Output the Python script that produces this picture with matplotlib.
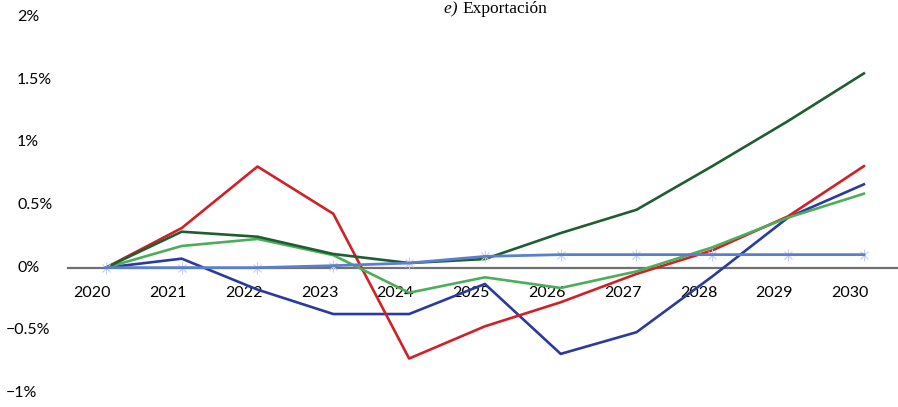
import matplotlib.pyplot as plt
import matplotlib.transforms as mtransforms
import numpy as np

plt.rcParams['font.family'] = ['Lato', 'DejaVu Sans']

years = [2020, 2021, 2022, 2023, 2024, 2025, 2026, 2027, 2028, 2029, 2030]

# percentage changes
dark_green = [0, 0.287, 0.247, 0.109, 0.037, 0.069, 0.276, 0.462, 0.81, 1.17, 1.55]
red = [0, 0.316, 0.807, 0.43, -0.725, -0.468, -0.276, -0.05, 0.138, 0.41, 0.81]
green = [0, 0.173, 0.229, 0.10, -0.20, -0.077, -0.162, -0.03, 0.162, 0.40, 0.59]
blue = [0, 0.072, -0.175, -0.37, -0.37, -0.13, -0.688, -0.515, -0.07, 0.40, 0.665]
light_blue = [0, 0, 0, 0.016, 0.037, 0.09, 0.104, 0.104, 0.104, 0.104, 0.104]

ytick_vals = [2, 1.5, 1, 0.5, 0, -0.5, -1]
ytick_labels = ['2%', '1.5%', '1%', '0.5%', '0%', '\u22120.5%', '\u22121%']
title = 'Exportación'

fig = plt.figure(figsize=(8.98, 4.07), dpi=100)
ax = fig.add_axes([68 / 898, 1 - 393 / 407, 1 - 68 / 898, (393 - 17) / 407])

ax.plot(years, blue, color='#2b3a9e', lw=1.9, zorder=3)
ax.plot(years, red, color='#d02028', lw=1.9, zorder=3)
ax.plot(years, green, color='#4cae5a', lw=1.9, zorder=4)
ax.plot(years, dark_green, color='#1e5e31', lw=1.9, zorder=4)
ax.plot(years, light_blue, color='#c3cff0', lw=0, marker='x', ms=6, mew=0.8, zorder=5)
ax.plot(years, light_blue, color='#c3cff0', lw=0, marker='|', ms=8, mew=0.8, zorder=5)
ax.plot(years, light_blue, color='#5b7fcc', lw=2.0, zorder=6)

ax.set_xlim(2019.5, 2030.45)
ax.set_ylim(-1, 2)

for s in ['top', 'right', 'left']:
    ax.spines[s].set_visible(False)
ax.spines['bottom'].set_position(('data', 0))
ax.spines['bottom'].set_color('#707070')
ax.spines['bottom'].set_linewidth(1.6)
ax.spines['bottom'].set_zorder(2)

ax.set_xticks(np.array(years) - 0.18)
ax.set_xticklabels([str(y) for y in years], fontsize=11.5)
ax.tick_params(axis='x', length=0, pad=13)

ax.set_yticks([])
trans = mtransforms.blended_transform_factory(fig.transFigure, ax.transData)
for v, lab in zip(ytick_vals, ytick_labels):
    xpos = 6 / 898 if v < 0 else 17 / 898
    ax.text(xpos, v, lab, transform=trans, ha='left', va='center', fontsize=11.5, clip_on=False)

fig.text(462 / 898, 1 - 13 / 407, 'e) ', ha='right', va='baseline', fontsize=12.5,
         family='Liberation Serif', style='italic')
fig.text(462 / 898, 1 - 13 / 407, title, ha='left', va='baseline', fontsize=12.5,
         family='Liberation Serif')

fig.savefig('out.png', dpi=100)
